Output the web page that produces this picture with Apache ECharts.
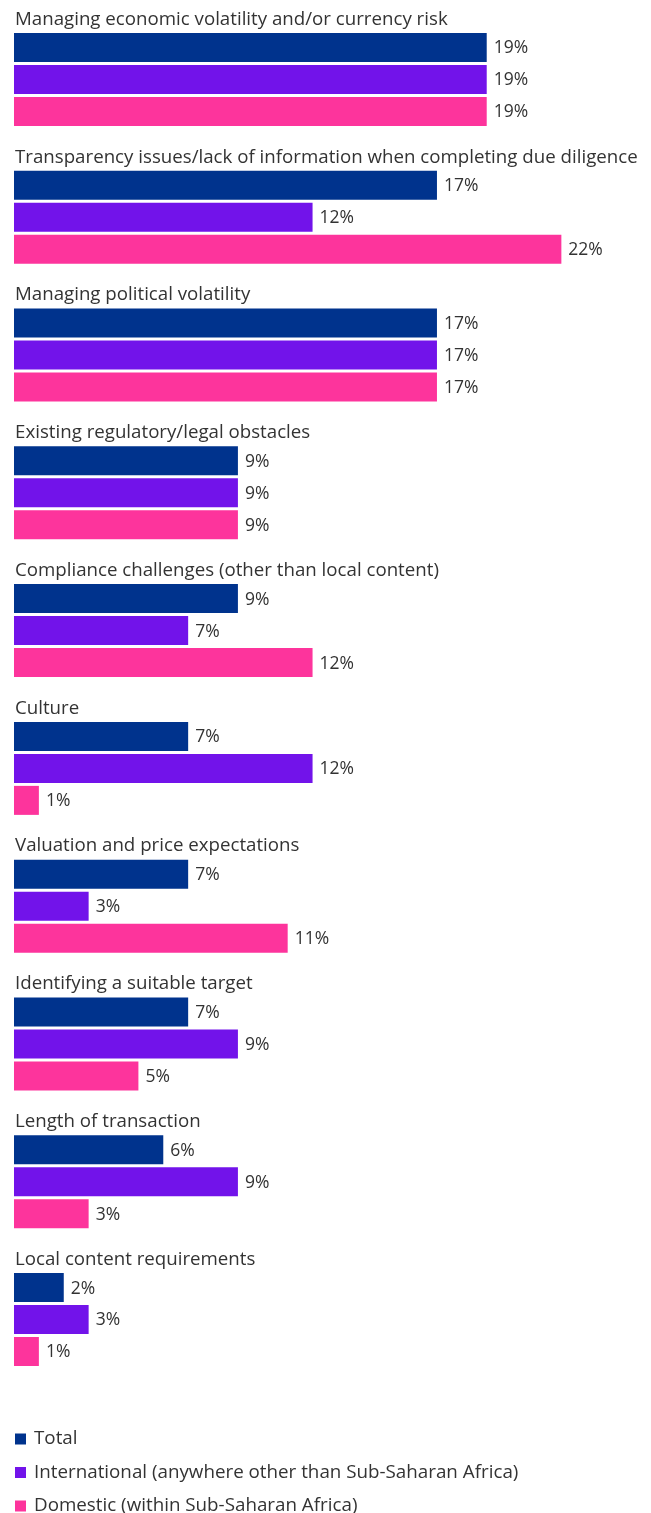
<!DOCTYPE html>
<html>
<head>
<meta charset="utf-8">
<script src="https://cdn.jsdelivr.net/npm/echarts@6/dist/echarts.min.js"></script>
<style>
html,body{margin:0;padding:0;background:#fff;}
#chart{width:651px;height:1513px;}
</style>
</head>
<body>
<div id="chart"></div>
<script>
const categories = [
  "Managing economic volatility and/or currency risk",
  "Transparency issues/lack of information when completing due diligence",
  "Managing political volatility",
  "Existing regulatory/legal obstacles",
  "Compliance challenges (other than local content)",
  "Culture",
  "Valuation and price expectations",
  "Identifying a suitable target",
  "Length of transaction",
  "Local content requirements"
];
const seriesNames = [
  "Total",
  "International (anywhere other than Sub-Saharan Africa)",
  "Domestic (within Sub-Saharan Africa)"
];
const totalValues = [19, 17, 17, 9, 9, 7, 7, 7, 6, 2];
const internationalValues = [19, 12, 17, 9, 7, 12, 3, 9, 9, 3];
const domesticValues = [19, 22, 17, 9, 12, 1, 11, 5, 3, 1];
const colors = ["#00338D", "#7213EA", "#FD349C"];

const FONT = "'Open Sans', Arial, sans-serif";
const TEXT = "#333333";

const chart = echarts.init(document.getElementById('chart'), null, {renderer: 'canvas'});
const valueSets = [totalValues, internationalValues, domesticValues];

const series = valueSets.map((vals, i) => ({
  name: seriesNames[i],
  type: 'bar',
  data: vals,
  barWidth: 29,
  barGap: '10.3%',
  itemStyle: {color: colors[i]},
  label: {
    show: true,
    position: 'right',
    distance: 7,
    offset: [0, 1],
    formatter: p => p.value + '%',
    color: TEXT,
    fontFamily: FONT,
    fontSize: 17.5
  },
  emphasis: {disabled: true},
  animation: false
}));

chart.setOption({
  animation: false,
  grid: {left: 14, right: 15, top: 10.6, bottom: 124.6, containLabel: false, outerBoundsMode: 'none'},
  xAxis: {
    type: 'value', min: 0, max: 25,
    show: false
  },
  yAxis: {
    type: 'category',
    data: categories,
    inverse: true,
    axisLine: {show: false},
    axisTick: {show: false},
    splitLine: {show: false},
    axisLabel: {
      inside: true,
      interval: 0,
      margin: 1,
      align: 'left',
      verticalAlign: 'bottom',
      lineHeight: 120,
      hideOverlap: false,
      color: TEXT,
      fontFamily: FONT,
      fontSize: 18.7
    }
  },
  legend: {
    orient: 'vertical',
    left: 15,
    top: 1429,
    height: 120,
    padding: 0,
    icon: 'rect',
    itemWidth: 11,
    itemHeight: 11,
    itemGap: 13.5,
    selectedMode: false,
    data: seriesNames,
    textStyle: {color: TEXT, fontFamily: FONT, fontSize: 18.8, padding: [0, 0, 0, 3], lineHeight: 20}
  },
  series: series
});
</script>
</body>
</html>
